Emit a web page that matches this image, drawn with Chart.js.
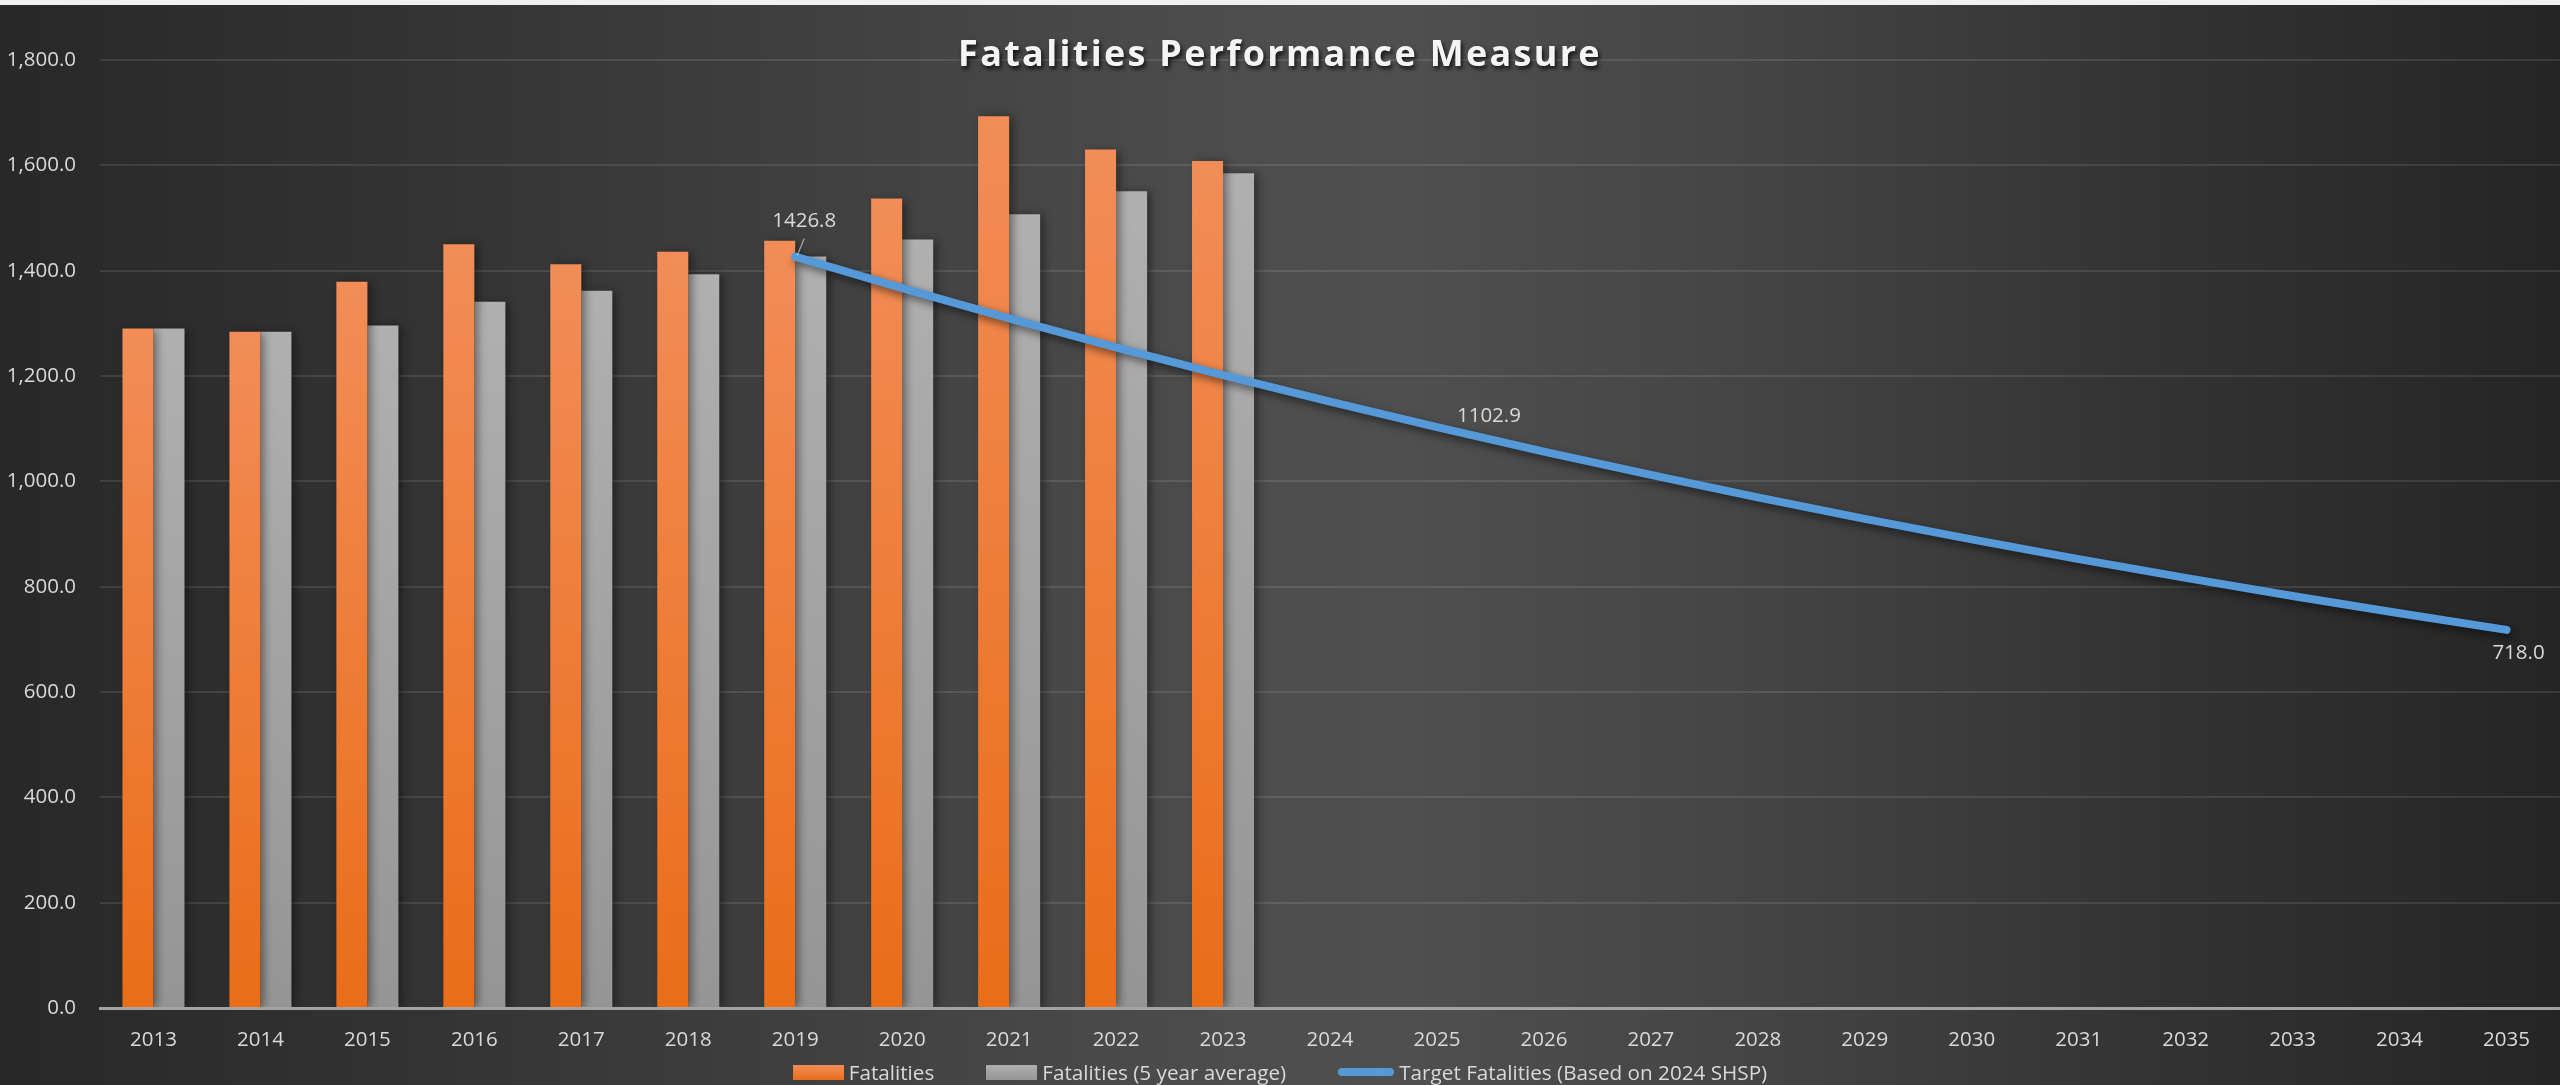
<!DOCTYPE html>
<html><head><meta charset="utf-8">
<script src="https://cdn.jsdelivr.net/npm/chart.js@4.4.1/dist/chart.umd.min.js"></script>
<style>
html,body{margin:0;padding:0;width:2560px;height:1085px;overflow:hidden;background:#f0f0f0;font-family:'Open Sans',sans-serif;}
#wrap{position:absolute;left:0;top:5px;width:2560px;height:1080px;
 background:linear-gradient(90deg,#282828 0%,#323232 15%,#404040 32%,#4d4d4d 48%,#4f4f4f 55%,#454545 68%,#333333 84%,#252525 100%);}
#chart{position:absolute;left:0;top:0;width:2560px;height:1080px;}
#title{position:absolute;left:0;top:28px;width:2560px;text-align:center;line-height:40px;color:#f4f4f4;font-weight:700;font-size:36px;letter-spacing:2.3px;text-shadow:2px 3px 4px rgba(0,0,0,0.75);pointer-events:none;}
#legend{position:absolute;left:0;top:1055px;width:2560px;display:flex;justify-content:center;align-items:center;color:#d9d9d9;font-size:20.7px;line-height:24px;}
.item{display:flex;align-items:center;margin:0 26px;}
.box{width:51px;height:15px;margin-right:5px;}
.lin{width:56px;height:8px;border-radius:4px;margin-right:5px;background:#5599d8;}
</style></head>
<body>
<div id="wrap">
<canvas id="chart" width="2560" height="1080"></canvas>
<div id="title">Fatalities Performance Measure</div>
<div id="legend">
 <div class="item"><div class="box" style="background:linear-gradient(#f28d58,#ea6d18)"></div><span>Fatalities</span></div>
 <div class="item"><div class="box" style="background:linear-gradient(#b0b0b0,#959595)"></div><span>Fatalities (5 year average)</span></div>
 <div class="item"><div class="lin"></div><span>Target Fatalities (Based on 2024 SHSP)</span></div>
</div>
</div>
<script>
const categories = ['2013','2014','2015','2016','2017','2018','2019','2020','2021','2022','2023','2024','2025','2026','2027','2028','2029','2030','2031','2032','2033','2034','2035'];
const fatalities = [1290,1284,1379,1450,1412,1436,1457,1537,1693,1630,1608,null,null,null,null,null,null,null,null,null,null,null,null];
const fiveYearAvg = [1290,1284,1296,1341,1362,1393,1426.8,1459,1507,1551,1585,null,null,null,null,null,null,null,null,null,null,null,null];
const targetFatalities = [null,null,null,null,null,null,1426.8,1366.9,1309.5,1254.5,1201.8,1151.3,1102.9,1056.5,1012.1,969.6,928.8,889.8,852.4,816.6,782.3,749.4,718.0];
const labelledYears = ['2019','2025','2035'];
const seriesNames = ['Fatalities','Fatalities (5 year average)','Target Fatalities (Based on 2024 SHSP)'];

function barGrad(top, bottom){
  return function(c){
    const chart = c.chart, ys = chart.scales && chart.scales.y;
    if (!ys || c.raw == null || !chart.chartArea) return top;
    const y0 = ys.getPixelForValue(c.raw), y1 = ys.getPixelForValue(0);
    const g = chart.ctx.createLinearGradient(0, y0, 0, y1);
    g.addColorStop(0, top); g.addColorStop(1, bottom);
    return g;
  };
}

const shadowPlugin = {
  id: 'shadows',
  beforeDatasetDraw(chart, args){
    const ctx = chart.ctx; ctx.save();
    if (args.meta.type === 'line'){
      ctx.shadowColor = 'rgba(0,0,0,0.55)'; ctx.shadowBlur = 8; ctx.shadowOffsetX = 3; ctx.shadowOffsetY = 4;
    } else {
      ctx.shadowColor = 'rgba(0,0,0,0.45)'; ctx.shadowBlur = 9; ctx.shadowOffsetX = 4; ctx.shadowOffsetY = 1;
    }
  },
  afterDatasetDraw(chart){ chart.ctx.restore(); }
};

const labelPlugin = {
  id: 'pointLabels',
  afterDatasetsDraw(chart){
    const meta = chart.getDatasetMeta(0);
    const ds = chart.data.datasets[0];
    const ctx = chart.ctx;
    const offsets = {'2019':[9,-35,true],'2025':[52,-11,false],'2035':[12,23,false]};
    ctx.save();
    ctx.font = '20.5px "Open Sans"';
    ctx.fillStyle = '#d9d9d9';
    ctx.textAlign = 'center'; ctx.textBaseline = 'middle';
    labelledYears.forEach(yr => {
      const i = chart.data.labels.indexOf(yr);
      const el = meta.data[i]; if (!el) return;
      const o = offsets[yr];
      if (o[2]){
        ctx.strokeStyle = 'rgba(217,217,217,0.7)'; ctx.lineWidth = 1.2;
        ctx.beginPath(); ctx.moveTo(el.x + 2, el.y - 1); ctx.lineTo(el.x + o[0], el.y + o[1] + 17); ctx.stroke();
      }
      ctx.fillText(ds.data[i].toFixed(1), el.x + o[0], el.y + o[1]);
    });
    ctx.restore();
  }
};

new Chart(document.getElementById('chart'), {
  type: 'bar',
  data: {
    labels: categories,
    datasets: [
      {type:'line', label: seriesNames[2], data: targetFatalities, borderColor:'#5599d8', backgroundColor:'#5599d8',
       borderWidth: 8, pointRadius: 0, pointHoverRadius: 0, borderCapStyle:'round', borderJoinStyle:'round', tension: 0, order: 0, spanGaps: false},
      {label: seriesNames[0], data: fatalities, backgroundColor: barGrad('#f28d58','#ea6d18'), borderWidth: 0, order: 1,
       categoryPercentage: 0.58, barPercentage: 1.0},
      {label: seriesNames[1], data: fiveYearAvg, backgroundColor: barGrad('#b0b0b0','#959595'), borderWidth: 0, order: 2,
       categoryPercentage: 0.58, barPercentage: 1.0}
    ]
  },
  options: {
    responsive: false, animation: false, devicePixelRatio: 1,
    layout: {padding: {left: 0, right: 0, top: 55, bottom: 33}},
    plugins: {legend: {display: false}, title: {display: false}, tooltip: {enabled: false}},
    scales: {
      x: {
        grid: {display: false},
        border: {display: true, color: '#a3a3a3', width: 3, z: 1},
        ticks: {color: '#d9d9d9', font: {family: 'Open Sans', size: 20.5}, padding: 12, maxRotation: 0, autoSkip: false},
        afterFit(s){ s.height = 44; }
      },
      y: {
        min: 0, max: 1800,
        grid: {color: 'rgba(255,255,255,0.10)', lineWidth: 2, drawTicks: false},
        border: {display: false},
        ticks: {stepSize: 200, color: '#d9d9d9', font: {family: 'Open Sans', size: 20.5}, padding: 24,
          callback: v => Number(v).toLocaleString('en-US', {minimumFractionDigits: 1, maximumFractionDigits: 1})},
        afterFit(s){ s.width = 100; }
      }
    }
  },
  plugins: [shadowPlugin, labelPlugin]
});
</script>
</body></html>
